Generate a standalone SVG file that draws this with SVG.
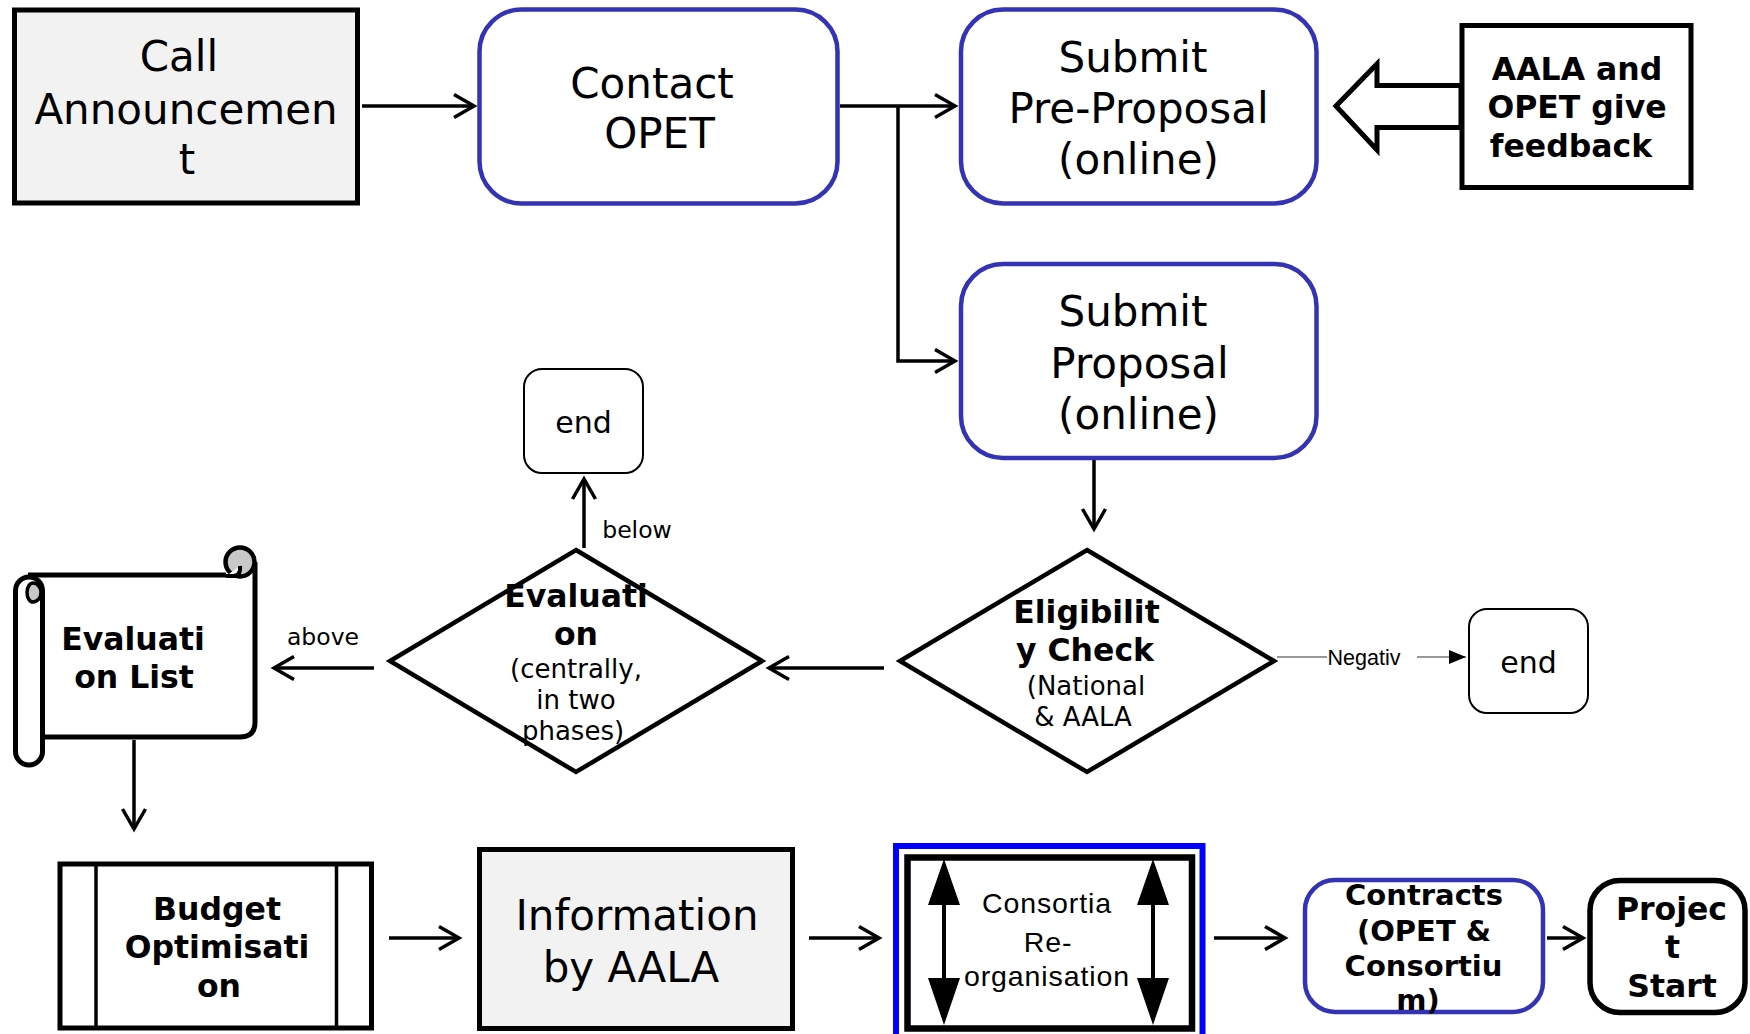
<svg xmlns="http://www.w3.org/2000/svg" width="1750" height="1034" viewBox="0 0 1750 1034">
<defs>
<style>
text { font-family: "DejaVu Sans", "Liberation Sans", sans-serif; fill:#000; text-anchor: middle; }
.big { font-size: 42px; }
.bold { font-size: 31.5px; font-weight: bold; }
.bold29 { font-size: 29px; font-weight: bold; }
.mid { font-size: 26px; }
.endt { font-size: 30px; }
.lab { font-size: 23.5px; }
.arial { font-family: "Liberation Sans", Arial, sans-serif; }
.cons { font-size: 28.5px; letter-spacing: 0.9px; }
.blue { fill:#fff; stroke:#3333b3; stroke-width:4.5; }
.box { fill:#fff; stroke:#000; stroke-width:5; }
.grey { fill:#f2f2f2; stroke:#000; stroke-width:5; }
.conn { fill:none; stroke:#000; stroke-width:3.5; marker-end:url(#open); }
</style>
<marker id="open" markerUnits="userSpaceOnUse" viewBox="-24 -14 28 28" markerWidth="28" markerHeight="28" refX="0" refY="0" orient="auto" overflow="visible">
<path d="M-20,-11.5 L0,0 L-20,11.5" fill="none" stroke="#000" stroke-width="3.5"/>
</marker>
<marker id="solid" markerUnits="userSpaceOnUse" viewBox="-18 -8 20 16" markerWidth="20" markerHeight="16" refX="0" refY="0" orient="auto" overflow="visible">
<path d="M-17,-7 L0,0 L-17,7 Z" fill="#000"/>
</marker>
</defs>
<rect width="1750" height="1034" fill="#fff"/>

<g id="connectors">
<path class="conn" d="M362 106 H474"/>
<path class="conn" d="M840 106 H955"/>
<path class="conn" d="M898 106 V361 H955"/>
<path class="conn" d="M1094 460 V529"/>
<path class="conn" d="M884 668 H769"/>
<path class="conn" d="M374 668 H274"/>
<path class="conn" d="M584 548 V479"/>
<path class="conn" d="M134 740 V829"/>
<path class="conn" d="M389 938 H459"/>
<path class="conn" d="M809 938 H879"/>
<path class="conn" d="M1214 938 H1285"/>
<path class="conn" d="M1547 938 H1583"/>
<path d="M1277 657 H1327" fill="none" stroke="#777" stroke-width="1.5"/>
<path d="M1417 657 H1466" fill="none" stroke="#777" stroke-width="1.5" marker-end="url(#solid)"/>
<text class="arial" x="1364" y="665" style="font-size:21.5px">Negativ</text>
<text class="lab" x="323" y="645">above</text>
<text class="lab" x="637" y="538">below</text>
</g>

<g id="call">
<rect class="grey" x="14.5" y="10" width="343" height="193"/>
<text class="big" x="179" y="71">Call</text>
<text class="big" x="186" y="124">Announcemen</text>
<text class="big" x="187" y="174">t</text>
</g>

<g id="contact">
<rect class="blue" x="479.5" y="9.5" width="358" height="194" rx="42"/>
<text class="big" x="652" y="98">Contact</text>
<text class="big" x="659.5" y="148">OPET</text>
</g>

<g id="preproposal">
<rect class="blue" x="961" y="9.5" width="355.5" height="194" rx="42"/>
<text class="big" x="1133" y="72">Submit</text>
<text class="big" x="1138.5" y="123">Pre-Proposal</text>
<text class="big" x="1138.5" y="174">(online)</text>
</g>

<g id="feedback">
<polygon points="1336,106 1377,64 1377,85.5 1461,85.5 1461,127.5 1377,127.5 1377,150" fill="#fff" stroke="#000" stroke-width="5"/>
<rect class="box" x="1462" y="25.5" width="229" height="162"/>
<text class="bold" x="1577" y="80">AALA and</text>
<text class="bold" x="1577" y="118">OPET give</text>
<text class="bold" x="1571" y="157">feedback</text>
</g>

<g id="proposal">
<rect class="blue" x="961" y="264" width="355.5" height="194" rx="42"/>
<text class="big" x="1133" y="326">Submit</text>
<text class="big" x="1139.5" y="378">Proposal</text>
<text class="big" x="1138.5" y="429">(online)</text>
</g>

<g id="eligibility">
<polygon points="1087,550 1274,661 1087,772 900,661" fill="#fff" stroke="#000" stroke-width="4.5"/>
<text class="bold" x="1086.5" y="623">Eligibilit</text>
<text class="bold" x="1085" y="661">y Check</text>
<text class="mid" x="1086" y="695">(National</text>
<text class="mid" x="1083" y="726">&amp; AALA</text>
</g>

<g id="end-right">
<rect x="1469" y="609" width="119" height="104" rx="18" fill="#fff" stroke="#000" stroke-width="2"/>
<text class="endt" x="1528.5" y="673">end</text>
</g>

<g id="evaluation">
<polygon points="576,550 762,661 576,772 390,661" fill="#fff" stroke="#000" stroke-width="4.5"/>
<text class="bold" x="576" y="607">Evaluati</text>
<text class="bold" x="576" y="645">on</text>
<text class="mid" x="576" y="678">(centrally,</text>
<text class="mid" x="576" y="709">in two</text>
<text class="mid" x="573" y="740">phases)</text>
</g>

<g id="end-top">
<rect x="524" y="369" width="119" height="104" rx="18" fill="#fff" stroke="#000" stroke-width="2"/>
<text class="endt" x="583.5" y="433">end</text>
</g>

<g id="evaluation-list">
<path d="M28 575 L240 575 L255 562 L255 722 Q255 737 240 737 L28 737 Z" fill="#fff"/>
<path d="M28 575 L226 575" fill="none" stroke="#000" stroke-width="5"/>
<path d="M255 562 L255 722 Q255 737 240 737 L43 737" fill="none" stroke="#000" stroke-width="5"/>
<circle cx="240" cy="562" r="14.5" fill="#c8c8c8" stroke="#000" stroke-width="4.5"/>
<path d="M226 576 L233 576 Q241 576 240 566" fill="#fff" stroke="#000" stroke-width="4"/>
<rect x="15.5" y="577" width="27" height="188" rx="13.5" fill="#fff" stroke="#000" stroke-width="5"/>
<path d="M33 583 A8 9.5 0 0 1 33 602 A6 9.5 0 0 1 33 583 Z" fill="#c8c8c8" stroke="#000" stroke-width="3.5"/>
<text class="bold" x="133" y="650">Evaluati</text>
<text class="bold" x="134" y="688">on List</text>
</g>

<g id="budget">
<rect class="box" x="60" y="864" width="311.5" height="164"/>
<path d="M96 864 V1028 M336.5 864 V1028" stroke="#000" stroke-width="3.5"/>
<text class="bold" x="217" y="920">Budget</text>
<text class="bold" x="217" y="958">Optimisati</text>
<text class="bold" x="219" y="997">on</text>
</g>

<g id="information">
<rect class="grey" x="479.5" y="849.5" width="313" height="179"/>
<text class="big" x="637" y="930">Information</text>
<text class="big" x="631" y="982">by AALA</text>
</g>

<g id="consortia">
<rect x="896" y="846" width="306.5" height="200" fill="#fff" stroke="#0000ff" stroke-width="6"/>
<rect x="907.5" y="857.5" width="284.5" height="171" fill="#fff" stroke="#000" stroke-width="6.5"/>
<path d="M944 900 V985 M1153 900 V985" stroke="#000" stroke-width="4"/>
<polygon points="944,859 928,905 960,905"/>
<polygon points="944,1025 928,978 960,978"/>
<polygon points="1153,859 1137,905 1169,905"/>
<polygon points="1153,1025 1137,978 1169,978"/>
<text class="arial cons" x="1047" y="913">Consortia</text>
<text class="arial cons" x="1048" y="952">Re-</text>
<text class="arial cons" x="1047" y="986">organisation</text>
</g>

<g id="contracts">
<rect class="blue" x="1305" y="880" width="238" height="132" rx="30"/>
<text class="bold29" x="1424" y="905">Contracts</text>
<text class="bold29" x="1424" y="941">(OPET &amp;</text>
<text class="bold29" x="1423.5" y="976">Consortiu</text>
<text class="bold29" x="1418" y="1010">m)</text>
</g>

<g id="project-start">
<rect x="1590" y="880.5" width="155" height="132" rx="30" fill="#fff" stroke="#000" stroke-width="5.5"/>
<text class="bold" x="1671.5" y="920">Projec</text>
<text class="bold" x="1672.5" y="958">t</text>
<text class="bold" x="1672" y="997">Start</text>
</g>
</svg>
